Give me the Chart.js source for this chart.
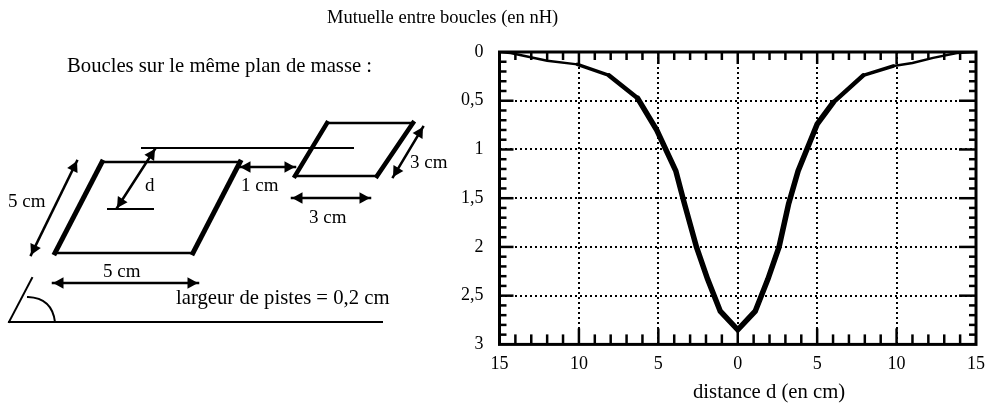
<!DOCTYPE html>
<html>
<head>
<meta charset="utf-8">
<title>Mutuelle entre boucles</title>
<script src="https://cdn.jsdelivr.net/npm/chart.js@4"></script>
<style>
    html, body { margin: 0; padding: 0; background: #fff; overflow: hidden; }
    canvas { display: block; }
</style>
</head>
<body>
<canvas id="mutuelleChart" width="988" height="406"></canvas>
<script>
// Valeurs
const distances = [-15, -14.3, -12, -10.1, -8.1, -6.3, -5.1, -3.9, -3.4, -2.6, -1.9, -1.1, 0,
    1.1, 1.9, 2.6, 3.2, 3.8, 4.6, 5, 6, 7.9, 9.8, 11, 12.3, 13.8, 15];
const mutuelle = [0, 0.01, 0.09, 0.127, 0.24, 0.475, 0.8, 1.22, 1.53, 2.0, 2.33, 2.66, 2.85,
    2.66, 2.33, 2.0, 1.56, 1.22, 0.9, 0.74, 0.52, 0.24, 0.144, 0.113, 0.06, 0.01, 0];
const xMajor = 5;
const xMinor = [-14, -13, -12, -11, -9, -8, -7, -6, -4, -3, -2, -1, 1, 2, 3, 4, 6, 7, 8, 9, 11, 12, 13, 14];
const yMinor = [0.1, 0.2, 0.3, 0.4, 0.6, 0.7, 0.8, 0.9, 1.1, 1.2, 1.3, 1.4, 1.6, 1.7, 1.8, 1.9, 2.1, 2.2, 2.3, 2.4, 2.6, 2.7, 2.8, 2.9];
const xMajorTicks = [-10, -5, 0, 5, 10];
const yMajorTicks = [0.5, 1, 1.5, 2, 2.5];

const FONT = '"Liberation Serif", "Times New Roman", serif';

function line(ctx, x1, y1, x2, y2, w) {
    ctx.lineWidth = w;
    ctx.beginPath();
    ctx.moveTo(x1, y1);
    ctx.lineTo(x2, y2);
    ctx.stroke();
}

function arrowHead(ctx, x, y, a) {
    ctx.beginPath();
    ctx.moveTo(x, y);
    ctx.lineTo(x - 12 * Math.cos(a - 0.5), y - 12 * Math.sin(a - 0.5));
    ctx.lineTo(x - 12 * Math.cos(a + 0.5), y - 12 * Math.sin(a + 0.5));
    ctx.closePath();
    ctx.fill();
}

function arrow(ctx, x1, y1, x2, y2) {
    const a = Math.atan2(y2 - y1, x2 - x1);
    line(ctx, x1, y1, x2, y2, 2.5);
    arrowHead(ctx, x2, y2, a);
    arrowHead(ctx, x1, y1, a + Math.PI);
}

// Le schéma des boucles, à gauche du graphique
const schemaPlugin = {
    id: 'schema',
    afterDraw(chart) {
        const ctx = chart.ctx;
        ctx.save();
        ctx.strokeStyle = '#000';
        ctx.fillStyle = '#000';
        ctx.lineCap = 'square';

        // grande boucle
        line(ctx, 102, 162, 240, 162, 2.5);
        line(ctx, 55, 253, 193, 253, 2.5);
        line(ctx, 102, 162, 55, 253, 5);
        line(ctx, 240, 162, 193, 253, 5);
        // petite boucle
        line(ctx, 327, 123, 413, 123, 2.5);
        line(ctx, 295, 176, 377, 176, 2.5);
        line(ctx, 327, 123, 295, 176, 4.5);
        line(ctx, 413, 123, 377, 176, 4.5);
        // axes de la distance
        line(ctx, 142, 148, 353, 148, 2);
        line(ctx, 108, 209, 153, 209, 2);
        // flèches
        arrow(ctx, 155, 149, 117, 208);
        arrow(ctx, 240, 167, 295, 167);
        arrow(ctx, 292, 198, 370, 198);
        arrow(ctx, 423, 127, 393, 177);
        arrow(ctx, 77, 161, 31, 255);
        arrow(ctx, 53, 283, 198, 283);
        // angle
        line(ctx, 32, 278, 9, 322, 2);
        line(ctx, 9, 322, 382, 322, 2);
        ctx.lineWidth = 2;
        ctx.beginPath();
        ctx.moveTo(28, 297);
        ctx.quadraticCurveTo(52, 298, 55, 322);
        ctx.stroke();

        // textes
        ctx.textBaseline = 'middle';
        ctx.textAlign = 'left';
        ctx.font = '18.5px ' + FONT;
        ctx.fillText('Mutuelle entre boucles (en nH)', 327, 18);
        ctx.font = '20.7px ' + FONT;
        ctx.fillText('Boucles sur le même plan de masse :', 67, 67);
        ctx.fillText('largeur de pistes = 0,2 cm', 176, 299);
        ctx.fillText('distance d (en cm)', 693, 393);
        ctx.font = '19px ' + FONT;
        ctx.fillText('5 cm', 8, 202);
        ctx.fillText('5 cm', 103, 272);
        ctx.fillText('d', 145, 186);
        ctx.fillText('1 cm', 241, 186);
        ctx.fillText('3 cm', 309, 218);
        ctx.fillText('3 cm', 410, 163);
        ctx.restore();
    }
};

// Cadre et petites graduations vers l'intérieur
const cadrePlugin = {
    id: 'cadre',
    afterDatasetsDraw(chart) {
        const ctx = chart.ctx;
        const a = chart.chartArea;
        const sx = chart.scales.x;
        const sy = chart.scales.y;
        ctx.save();
        ctx.strokeStyle = '#000';
        ctx.lineCap = 'butt';
        xMinor.forEach(v => {
            const p = sx.getPixelForValue(v);
            line(ctx, p, a.top, p, a.top + 8, 2.5);
            line(ctx, p, a.bottom, p, a.bottom - 10, 2.5);
        });
        xMajorTicks.forEach(v => {
            const p = sx.getPixelForValue(v);
            line(ctx, p, a.top, p, a.top + 12, 2.5);
            line(ctx, p, a.bottom, p, a.bottom - 16, 2.5);
        });
        yMinor.forEach(v => {
            const p = sy.getPixelForValue(v);
            line(ctx, a.left, p, a.left + 7, p, 2.5);
            line(ctx, a.right, p, a.right - 7, p, 2.5);
        });
        yMajorTicks.forEach(v => {
            const p = sy.getPixelForValue(v);
            line(ctx, a.left, p, a.left + 14, p, 2.5);
            line(ctx, a.right, p, a.right - 17, p, 2.5);
        });
        ctx.lineCap = 'square';
        ctx.lineWidth = 3;
        ctx.strokeRect(a.left, a.top, a.right - a.left, a.bottom - a.top);
        ctx.restore();
    }
};

new Chart(document.getElementById('mutuelleChart'), {
    type: 'line',
    data: {
        datasets: [{
            label: 'Mutuelle',
            data: distances.map((d, i) => ({ x: d, y: mutuelle[i] })),
            borderColor: '#000',
            borderWidth: 5,
            borderCapStyle: 'round',
            pointRadius: 0,
            tension: 0,
            segment: {
                borderWidth: c => {
                    const d = Math.abs(c.p0.parsed.x) + Math.abs(c.p1.parsed.x);
                    if (d >= 20) return 2.5;
                    if (d >= 16) return 3.5;
                    if (d >= 12) return 4.5;
                    return 5.5;
                }
            }
        }]
    },
    options: {
        responsive: false,
        animation: false,
        layout: { autoPadding: false, padding: { left: 445, right: 12, top: 52, bottom: 22 } },
        plugins: { legend: { display: false }, tooltip: { enabled: false } },
        scales: {
            x: {
                type: 'linear',
                min: -15,
                max: 15,
                // le dernier libellé ne doit pas pousser le cadre vers la gauche
                afterFit: s => { s.paddingRight = 0; },
                ticks: {
                    stepSize: xMajor,
                    color: '#000',
                    padding: 9,
                    maxRotation: 0,
                    font: { family: FONT, size: 18 },
                    callback: v => String(Math.abs(v))
                },
                grid: { color: '#000', lineWidth: 2, drawTicks: false },
                border: { display: false, dash: [2, 3] }
            },
            y: {
                reverse: true,
                min: 0,
                max: 3,
                ticks: {
                    stepSize: 0.5,
                    color: '#000',
                    padding: 16,
                    font: { family: FONT, size: 18 },
                    callback: v => String(v).replace('.', ',')
                },
                grid: { color: '#000', lineWidth: 2, drawTicks: false },
                border: { display: false, dash: [2, 3] }
            }
        }
    },
    plugins: [cadrePlugin, schemaPlugin]
});
</script>
</body>
</html>
